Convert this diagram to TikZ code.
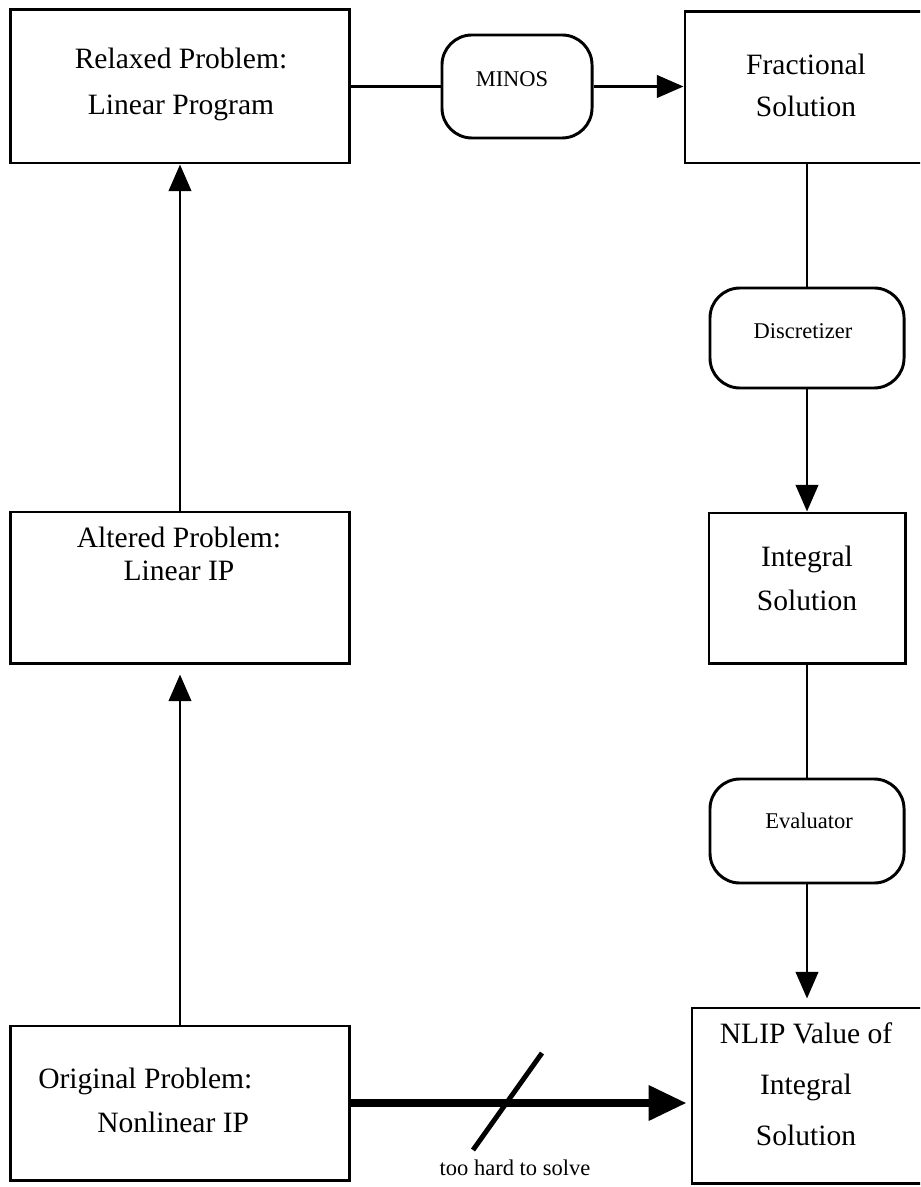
\documentclass[tikz,border=0pt]{standalone}
\usepackage{fontspec}
\setmainfont{Liberation Serif}
\usetikzlibrary{arrows.meta}
\tikzset{box/.style={draw, line width=2.1pt, inner sep=0pt},
 proc/.style={draw, line width=2.1pt, inner sep=0pt, rounded corners=0.75cm},
 big/.style={font=\fontsize{21}{31}\selectfont, align=center, inner sep=0pt},
 small/.style={font=\fontsize{16}{19}\selectfont, inner sep=0pt},
 link/.style={line width=2pt},
 flow/.style={line width=2pt, -{Triangle[length=19pt,width=16pt]}},
 }

\begin{document}
\begin{tikzpicture}[x=0.025cm, y=-0.025cm]
        \useasboundingbox (0,0) rectangle (920,1187);
        \clip (0,0) rectangle (920,1187);
        % left column
        \node[box, minimum width=8.45cm, minimum height=3.825cm] (relaxed) at (180,86.5) {};
        \node[box, minimum width=8.45cm, minimum height=3.775cm] (altered) at (180,587.5) {};
        \node[box, minimum width=8.45cm, minimum height=3.85cm] (original) at (180,1103) {};
        % right column
        \node[box, minimum width=6.1cm, minimum height=3.775cm] (fractional) at (807,87.5) {};
        \node[proc, minimum width=3.75cm, minimum height=2.575cm] (minos) at (517,86.5) {};
        \node[proc, minimum width=4.85cm, minimum height=2.5cm] (discretizer) at (807,338) {};
        \node[box, minimum width=4.9cm, minimum height=3.75cm] (integral) at (807,588) {};
        \node[proc, minimum width=4.85cm, minimum height=2.6cm] (evaluator) at (807,831) {};
        \node[box, minimum width=5.75cm, minimum height=4.375cm] (nlip) at (807,1095.5) {};
        % texts (anchored on the last line)
        \node[big, anchor=base] (relaxedtxt) at (181,115) {Relaxed Problem:\\[2pt]Linear Program};
        \node[big, anchor=base] (alteredtxt) at (179,580) {Altered Problem:\\[-8pt]Linear IP};
        \node[big, align=left, anchor=base west] (originaltxt) at (38,1132) {Original Problem:\\\hspace*{1.475cm}Nonlinear IP};
        \node[big, anchor=base] (fractionaltxt) at (806,117) {Fractional\\[-1pt]Solution};
        \node[big, anchor=base] (integraltxt) at (807,610) {Integral\\Solution};
        \node[big, anchor=base] (nliptxt) at (806,1145) {NLIP Value of\\[5pt]Integral\\[5pt]Solution};
        \node[small, anchor=base] (minostxt) at (512,87) {MINOS};
        \node[small, anchor=base] (discretizertxt) at (803,339) {Discretizer};
        \node[small, anchor=base] (evaluatortxt) at (809,828) {Evaluator};
        \node[small, anchor=base] (hardtxt) at (515,1175) {too hard to solve};
        % connectors
        \draw[link] (relaxed.east) -- (minos.west);
        \draw[flow] (minos.east) -- (minos.east -| fractional.west);
        \draw[link] (fractional.south) -- (discretizer.north);
        \draw[flow] (discretizer.south) -- (integral.north);
        \draw[link] (integral.south) -- (evaluator.north);
        \draw[flow, shorten >=0.2cm] (evaluator.south) -- (nlip.north);
        \draw[flow, shorten >=0.25cm] (original.north) -- (altered.south);
        \draw[flow] (altered.north) -- (relaxed.south);
        \draw[line width=5.5pt, -{Triangle[length=27pt,width=24pt]}, shorten >=0.1cm] (original.east) -- (original.east -| nlip.west);
        \coordinate (slashlo) at (473,1150);
        \coordinate (slashhi) at (542,1053);
        \draw[line width=3.5pt] (slashlo) -- (slashhi);
    \end{tikzpicture}
\end{document}
